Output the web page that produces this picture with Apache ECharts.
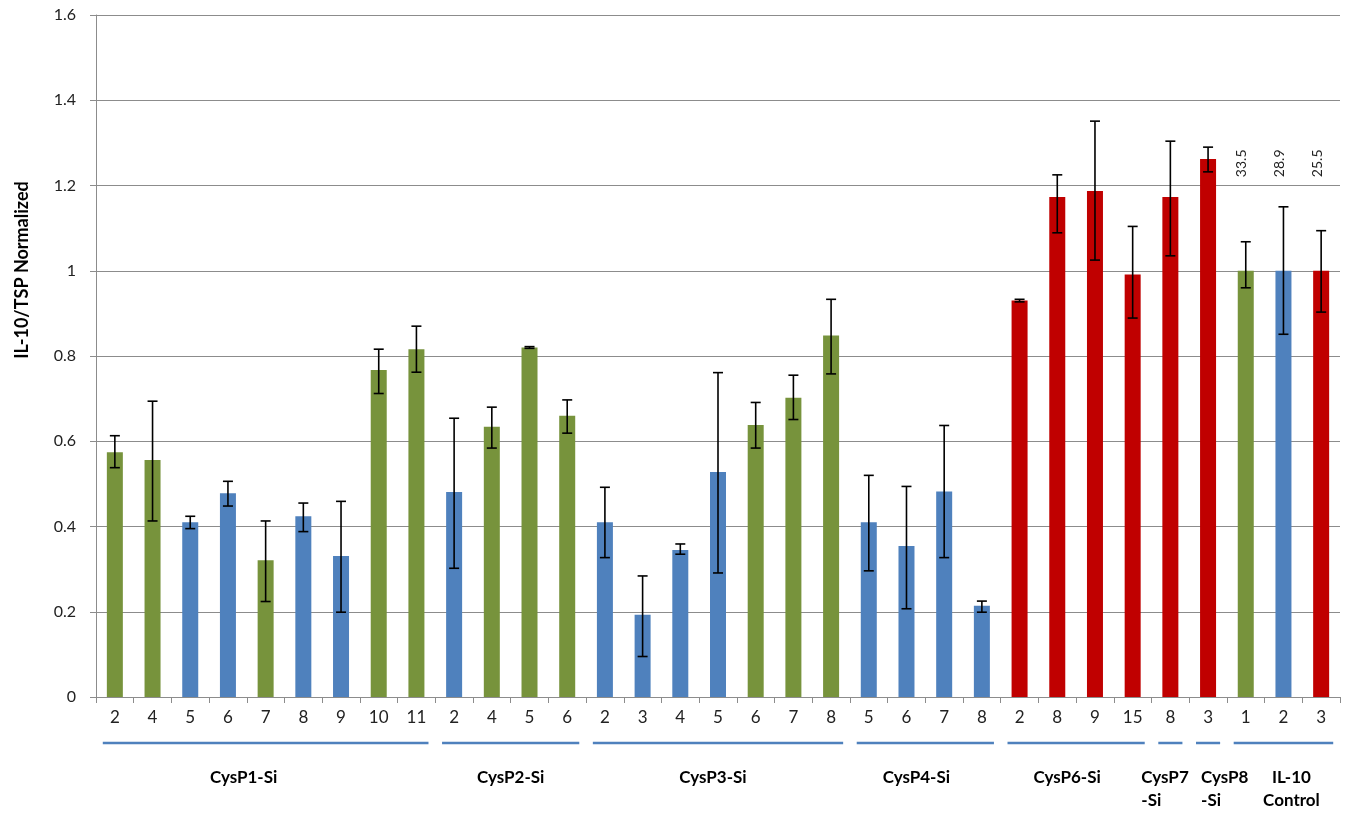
<!DOCTYPE html>
<html>
<head>
<meta charset="utf-8">
<script src="https://cdn.jsdelivr.net/npm/echarts@6/dist/echarts.min.js"></script>
<style>
html,body{margin:0;padding:0;background:#fff;}
#chart{width:1351px;height:814px;}
</style>
</head>
<body>
<div id="chart"></div>
<script>
// ---------- DATA ----------
const categories = ['2','4','5','6','7','8','9','10','11',
  '2','4','5','6',
  '2','3','4','5','6','7','8',
  '5','6','7','8',
  '2','8','9','15',
  '8',
  '3',
  '1','2','3'];
const barValues = [0.574,0.556,0.410,0.478,0.321,0.424,0.331,0.767,0.816,
  0.481,0.634,0.820,0.660,
  0.410,0.193,0.345,0.528,0.638,0.702,0.848,
  0.410,0.354,0.482,0.214,
  0.930,1.173,1.187,0.991,
  1.173,
  1.262,
  1.000,1.000,1.000];
const errUpper = [0.613,0.694,0.424,0.506,0.413,0.455,0.459,0.816,0.870,
  0.654,0.680,0.822,0.697,
  0.492,0.284,0.359,0.761,0.691,0.755,0.933,
  0.520,0.494,0.637,0.225,
  0.933,1.225,1.351,1.104,
  1.304,
  1.290,
  1.068,1.150,1.094];
const errLower = [0.538,0.413,0.395,0.448,0.224,0.388,0.199,0.712,0.762,
  0.302,0.584,0.818,0.619,
  0.327,0.095,0.335,0.291,0.584,0.651,0.758,
  0.296,0.207,0.327,0.199,
  0.927,1.089,1.025,0.889,
  1.035,
  1.232,
  0.960,0.851,0.903];
const barKind = ['G','G','B','B','G','B','B','G','G',
  'B','G','G','G',
  'B','B','B','B','G','G','G',
  'B','B','B','B',
  'R','R','R','R',
  'R',
  'R',
  'G','B','R'];
const groupNames = ['CysP1-Si','CysP2-Si','CysP3-Si','CysP4-Si','CysP6-Si','CysP7\n-Si','CysP8\n-Si','IL-10\nControl'];
const groupSizes = [9,4,7,4,4,1,1,3];
const noteCats = [30,31,32];
const noteTexts = ['33.5','28.9','25.5'];
const yTicks = {min:0, max:1.6, interval:0.2};
const yTitle = 'IL-10/TSP Normalized';

// ---------- STYLE / LAYOUT ----------
const palette = {G:'#77933C', B:'#4F81BD', R:'#C00000'};
const FONT = 'Lato, "Open Sans", sans-serif';
const groupLabelLayout = [
  {dx:-22, align:'center'},{dx:0, align:'center'},{dx:-5, align:'center'},{dx:-9, align:'center'},
  {dx:-9, align:'center'},{dx:-29, align:'left'},{dx:-7, align:'left'},{dx:8, align:'center'}
];
const NOTE_Y_VALUE = 1.252;

const groupData = [];
let start = 0;
groupSizes.forEach((n, gi) => { groupData.push([start, start + n - 1, gi]); start += n; });

const chart = echarts.init(document.getElementById('chart'), null, {renderer:'canvas'});
const option = {
  animation: false,
  textStyle: {fontFamily: FONT},
  grid: {left:96, right:11, top:15, bottom:117, containLabel:false},
  xAxis: {
    type:'category',
    data: categories,
    axisLine: {show:true, lineStyle:{color:'#8c8c8c', width:1}},
    axisTick: {show:true, length:6, lineStyle:{color:'#8c8c8c'}},
    axisLabel: {interval:0, fontSize:17, color:'#222', margin:12, fontFamily: FONT},
    splitLine: {show:false}
  },
  yAxis: {
    type:'value',
    min: yTicks.min, max: yTicks.max, interval: yTicks.interval,
    axisLine: {show:true, lineStyle:{color:'#8c8c8c', width:1}},
    axisTick: {show:true, length:6, lineStyle:{color:'#8c8c8c'}},
    axisLabel: {fontSize:16, color:'#222', margin:20, fontFamily: FONT},
    splitLine: {show:true, lineStyle:{color:'#8c8c8c', width:1}}
  },
  graphic: [{
    type:'text', x:22, y:270, rotation: Math.PI/2,
    style:{text: yTitle, font:'bold 18px ' + FONT, fill:'#000',
      align:'center', textAlign:'center', verticalAlign:'middle', textVerticalAlign:'middle'}
  }],
  series: [
    {
      type:'bar',
      barWidth:16,
      data: barValues.map((v, i) => ({value: v, itemStyle:{color: palette[barKind[i]]}})),
      z: 2
    },
    {
      type:'custom',
      clip:false,
      z: 5,
      data: barValues.map((v, i) => [i, errLower[i], errUpper[i]]),
      encode: {x:0, y:[1,2]},
      renderItem: function(params, api) {
        const i = api.value(0);
        const lo = api.coord([i, api.value(1)]);
        const hi = api.coord([i, api.value(2)]);
        const cw = 5;
        const st = {stroke:'#000', lineWidth:1.6};
        return {type:'group', children:[
          {type:'line', shape:{x1:lo[0], y1:lo[1], x2:hi[0], y2:hi[1]}, style:st},
          {type:'line', shape:{x1:hi[0]-cw, y1:hi[1], x2:hi[0]+cw, y2:hi[1]}, style:st},
          {type:'line', shape:{x1:lo[0]-cw, y1:lo[1], x2:lo[0]+cw, y2:lo[1]}, style:st}
        ]};
      }
    },
    {
      type:'custom',
      clip:false,
      z: 5,
      data: noteCats.map((c, k) => [c, k]),
      encode: {x:0, y:1},
      renderItem: function(params, api) {
        const c = api.value(0), k = api.value(1);
        const p = api.coord([c, NOTE_Y_VALUE]);
        return {type:'text', x: p[0] - 4, y: p[1], rotation: Math.PI/2,
          style:{text: noteTexts[k], font:'14px ' + FONT, fill:'#222',
            align:'center', textAlign:'center', verticalAlign:'middle', textVerticalAlign:'middle'}};
      }
    },
    {
      type:'custom',
      clip:false,
      z: 5,
      data: groupData,
      encode: {x:[0,1]},
      renderItem: function(params, api) {
        const s = api.value(0), e = api.value(1), gi = api.value(2);
        const p0 = api.coord([s, 0]);
        const p1 = api.coord([e, 0]);
        const band = api.size([1, 0])[0];
        const ext = band * 0.32;
        const L = groupLabelLayout[gi];
        const yLine = p0[1] + 46;
        const cx = (p0[0] + p1[0]) / 2;
        const tx = L.align === 'left' ? p0[0] + L.dx : cx + L.dx;
        return {type:'group', children:[
          {type:'line', shape:{x1:p0[0]-ext, y1:yLine, x2:p1[0]+ext, y2:yLine},
            style:{stroke:'#4F81BD', lineWidth:2.5}},
          {type:'text', x: tx, y: p0[1] + 69,
            style:{text: groupNames[gi], font:'bold 17px ' + FONT, fill:'#000', lineHeight:23,
              align:L.align, textAlign:L.align, verticalAlign:'top', textVerticalAlign:'top'}}
        ]};
      }
    }
  ]
};
chart.setOption(option);
</script>
</body>
</html>
